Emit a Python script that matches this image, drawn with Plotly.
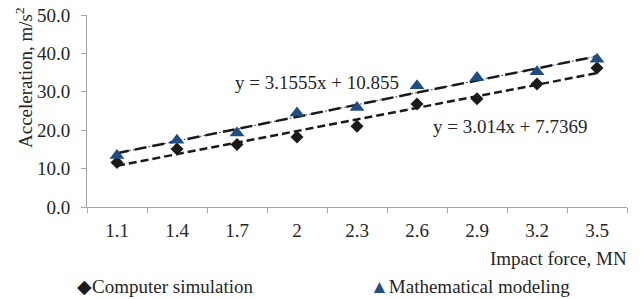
import plotly.graph_objects as go

categories = ["1.1", "1.4", "1.7", "2", "2.3", "2.6", "2.9", "3.2", "3.5"]
computer_sim = [11.6, 15.1, 16.3, 18.2, 21.0, 26.8, 28.2, 32.0, 36.2]
math_model = [13.4, 17.4, 19.3, 24.5, 25.9, 31.6, 33.7, 35.2, 38.5]
fit_comp = (3.014, 7.7369)
fit_math = (3.1555, 10.855)
y_ticks = [0, 10, 20, 30, 40, 50]

FONT = "Liberation Serif, Times New Roman, serif"
TXT = "#262626"
BLUE = "#1F4E85"
AX = "#A6A6A6"
FS = 19

def trend(fit):
    n = len(categories)
    return [fit[0] * 1 + fit[1], fit[0] * n + fit[1]]

tx = [categories[0], categories[-1]]

fig = go.Figure()
# trendlines
fig.add_trace(go.Scatter(x=tx, y=trend(fit_math), mode="lines",
                         line=dict(color=BLUE, width=1, dash="2px,2px"),
                         showlegend=False, hoverinfo="skip"))
fig.add_trace(go.Scatter(x=tx, y=trend(fit_math), mode="lines",
                         line=dict(color="#1a1a1a", width=2.5, dash="12px,6px"),
                         showlegend=False, hoverinfo="skip"))
fig.add_trace(go.Scatter(x=tx, y=trend(fit_comp), mode="lines",
                         line=dict(color="#1a1a1a", width=2.5, dash="8px,4px"),
                         showlegend=False, hoverinfo="skip"))
# data
fig.add_trace(go.Scatter(x=categories, y=computer_sim, mode="markers",
                         name="Computer simulation",
                         marker=dict(symbol="diamond", size=10, color="#1a1a1a")))
fig.add_trace(go.Scatter(x=categories, y=math_model, mode="markers",
                         name="Mathematical modeling",
                         marker=dict(symbol="triangle-up", size=13, color=BLUE)))

fig.update_layout(
    width=643, height=299,
    margin=dict(l=87, r=16, t=15, b=92),
    paper_bgcolor="white", plot_bgcolor="white",
    font=dict(family=FONT, size=FS, color=TXT),
    showlegend=False,
    xaxis=dict(type="category", categoryorder="array", categoryarray=categories,
               tickson="boundaries", ticks="outside", ticklen=5, tickcolor=AX,
               showline=True, linecolor=AX, linewidth=1, showgrid=False,
               zeroline=False, range=[-0.5, len(categories) - 0.5],
               tickfont=dict(family=FONT, size=FS, color=TXT),
               ticklabelstandoff=6, automargin=False),
    yaxis=dict(range=[0, 50], tickvals=y_ticks,
               ticktext=[f"{v:.1f}" for v in y_ticks],
               ticks="outside", ticklen=5, tickcolor=AX,
               showline=True, linecolor=AX, linewidth=1, showgrid=False,
               zeroline=False, tickfont=dict(family=FONT, size=FS, color=TXT),
               ticklabelstandoff=7, automargin=False),
)

ann = [
    dict(text="y = 3.1555x + 10.855", x=233, y=82, xanchor="left"),
    dict(text="y = 3.014x + 7.7369", x=431, y=127, xanchor="left"),
    dict(text="Impact force, MN", x=629, y=258, xanchor="right"),
]
for a in ann:
    fig.add_annotation(xref="paper", yref="paper",
                       x=(a["x"] - 87) / 540, y=(299 - 92 - a["y"]) / 192,
                       xanchor=a["xanchor"], yanchor="middle", text=a["text"],
                       showarrow=False, font=dict(family=FONT, size=FS, color=TXT))

legend_items = [
    ("Computer simulation", "\u25C6", "#1a1a1a", 75),
    ("Mathematical modeling", "\u25B2", BLUE, 368),
]
for name, sym, col, xpos in legend_items:
    fig.add_annotation(xref="paper", yref="paper",
                       x=(xpos - 87) / 540, y=(299 - 92 - 286) / 192,
                       xanchor="left", yanchor="middle", showarrow=False,
                       text=f"<span style='color:{col}'>{sym}</span>{name}",
                       font=dict(family=FONT, size=FS, color=TXT))

fig.add_annotation(xref="paper", yref="paper", x=(24 - 87) / 540, y=(299 - 92 - 78) / 192,
                   xanchor="center", yanchor="middle", textangle=-90, showarrow=False,
                   text="Acceleration, m/s<sup>2</sup>",
                   font=dict(family=FONT, size=FS, color=TXT))

fig.write_html("out.html", config={"displayModeBar": False},
               post_script="document.body.style.margin='0px';document.body.style.overflow='hidden';")
